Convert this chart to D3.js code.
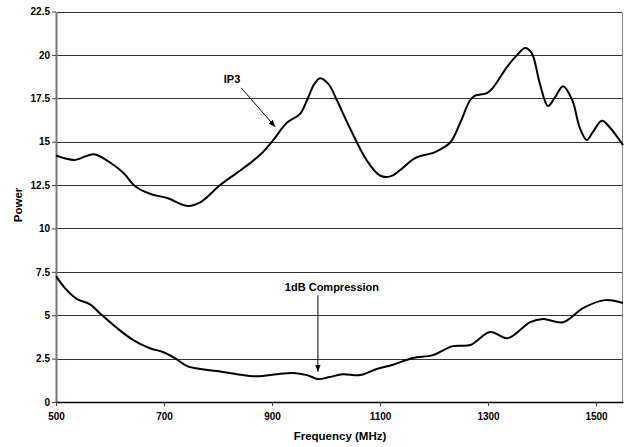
<!DOCTYPE html>
<html><head><meta charset="utf-8">
<script src="https://cdn.jsdelivr.net/npm/d3@7"></script>
<style>body{margin:0;background:#fff}svg{display:block;font-family:"Liberation Sans",Arial,sans-serif}</style>
</head><body><svg id="c" width="624" height="447"></svg>
<script>
const xTicks=[500,700,900,1100,1300,1500];
const yTicks=[0,2.5,5,7.5,10,12.5,15,17.5,20,22.5];
const ip3Freq=[500,535,570,600,625,646,674,706,743,767,804,835,859,880,900,928,952,965,978,989,1005,1020,1044,1076,1100,1119,1137,1165,1202,1230,1248,1267,1276,1298,1309,1335,1354,1369,1381,1396,1411,1424,1439,1456,1470,1483,1494,1511,1526,1550];
const ip3Val=[14.2,13.95,14.28,13.8,13.2,12.45,12.0,11.75,11.3,11.5,12.5,13.2,13.75,14.3,15.0,16.1,16.6,17.4,18.3,18.65,18.3,17.4,15.8,13.9,13.05,13.0,13.35,14.05,14.4,14.95,16.05,17.4,17.65,17.8,18.1,19.3,20.0,20.4,20.1,18.35,17.05,17.55,18.2,17.4,15.8,15.1,15.55,16.2,15.8,14.8];
const cmpFreq=[500,517,539,563,581,613,643,674,698,720,743,767,798,835,859,883,909,939,965,985,1007,1031,1063,1094,1124,1161,1198,1235,1267,1304,1337,1378,1402,1439,1476,1517,1550];
const cmpVal=[7.25,6.55,5.93,5.63,5.12,4.26,3.57,3.1,2.88,2.53,2.07,1.9,1.78,1.6,1.5,1.5,1.6,1.67,1.55,1.32,1.44,1.6,1.55,1.9,2.15,2.53,2.7,3.22,3.28,4.03,3.68,4.6,4.78,4.6,5.41,5.87,5.7];
const annotations=[
 {text:"IP3",tx:826,ty:18.4,x1:843,y1:18.1,x2:906,y2:15.85},
 {text:"1dB Compression",tx:1011,ty:6.4,x1:985,y1:6.15,x2:985,y2:1.75}
];

const svg=d3.select("#c");
const L=56,R=622,T=11.5,B=402;
const x=d3.scaleLinear().domain([500,1550]).range([L,R+1]);
const y=d3.scaleLinear().domain([0,22.5]).range([B,T]);

svg.append("defs").append("marker").attr("id","ah").attr("viewBox","0 0 10 10")
 .attr("refX",10).attr("refY",5).attr("markerWidth",7).attr("markerHeight",7)
 .attr("markerUnits","userSpaceOnUse").attr("orient","auto")
 .append("path").attr("d","M0,1L10,5L0,9Z").attr("fill","#000");

svg.append("g").selectAll("line").data(yTicks.filter(d=>d>0)).join("line")
 .attr("x1",L).attr("x2",R).attr("y1",d=>Math.round(y(d))+0.5).attr("y2",d=>Math.round(y(d))+0.5)
 .attr("stroke","#333").attr("stroke-width",1);
svg.append("line").attr("x1",R+0.5).attr("x2",R+0.5).attr("y1",Math.round(T)+0.5).attr("y2",B)
 .attr("stroke","#888");

const yAxis=svg.append("g").attr("transform",`translate(${L},0)`)
 .call(d3.axisLeft(y).tickValues(yTicks).tickSize(4).tickSizeOuter(0).tickFormat(d=>d));
yAxis.select(".domain").attr("stroke","#777").attr("stroke-width",2);
yAxis.selectAll(".tick line").attr("stroke","#444");
yAxis.selectAll("text").attr("font-size",10).attr("font-weight","bold").attr("fill","#000").attr("x",-6);

const xAxis=svg.append("g").attr("transform",`translate(0,${B})`)
 .call(d3.axisBottom(x).tickValues(xTicks).tickSize(4).tickSizeOuter(0).tickFormat(d=>d));
xAxis.select(".domain").attr("stroke","#000").attr("stroke-width",1.5);
xAxis.selectAll(".tick line").attr("stroke","#444");
xAxis.selectAll("text").attr("font-size",10).attr("font-weight","bold").attr("fill","#000").attr("y",11);

svg.append("text").attr("x",340).attr("y",440).attr("text-anchor","middle")
 .attr("font-size",11.5).attr("font-weight","bold").text("Frequency (MHz)");
svg.append("text").attr("transform","translate(22,205) rotate(-90)").attr("text-anchor","middle")
 .attr("font-size",11.5).attr("font-weight","bold").text("Power");

const line=d3.line().x(d=>x(d[0])).y(d=>y(d[1])).curve(d3.curveCatmullRom.alpha(0.5));
svg.append("path").datum(d3.zip(ip3Freq,ip3Val)).attr("d",line)
 .attr("fill","none").attr("stroke","#000").attr("stroke-width",2);
svg.append("path").datum(d3.zip(cmpFreq,cmpVal)).attr("d",line)
 .attr("fill","none").attr("stroke","#000").attr("stroke-width",2);

const ann=svg.append("g");
ann.selectAll("text").data(annotations).join("text")
 .attr("x",d=>x(d.tx)).attr("y",d=>y(d.ty)).attr("text-anchor","middle")
 .attr("font-size",11).attr("font-weight","bold").text(d=>d.text);
ann.selectAll("line").data(annotations).join("line")
 .attr("x1",d=>x(d.x1)).attr("y1",d=>y(d.y1)).attr("x2",d=>x(d.x2)).attr("y2",d=>y(d.y2))
 .attr("stroke","#000").attr("stroke-width",1).attr("marker-end","url(#ah)");
</script></body></html>
